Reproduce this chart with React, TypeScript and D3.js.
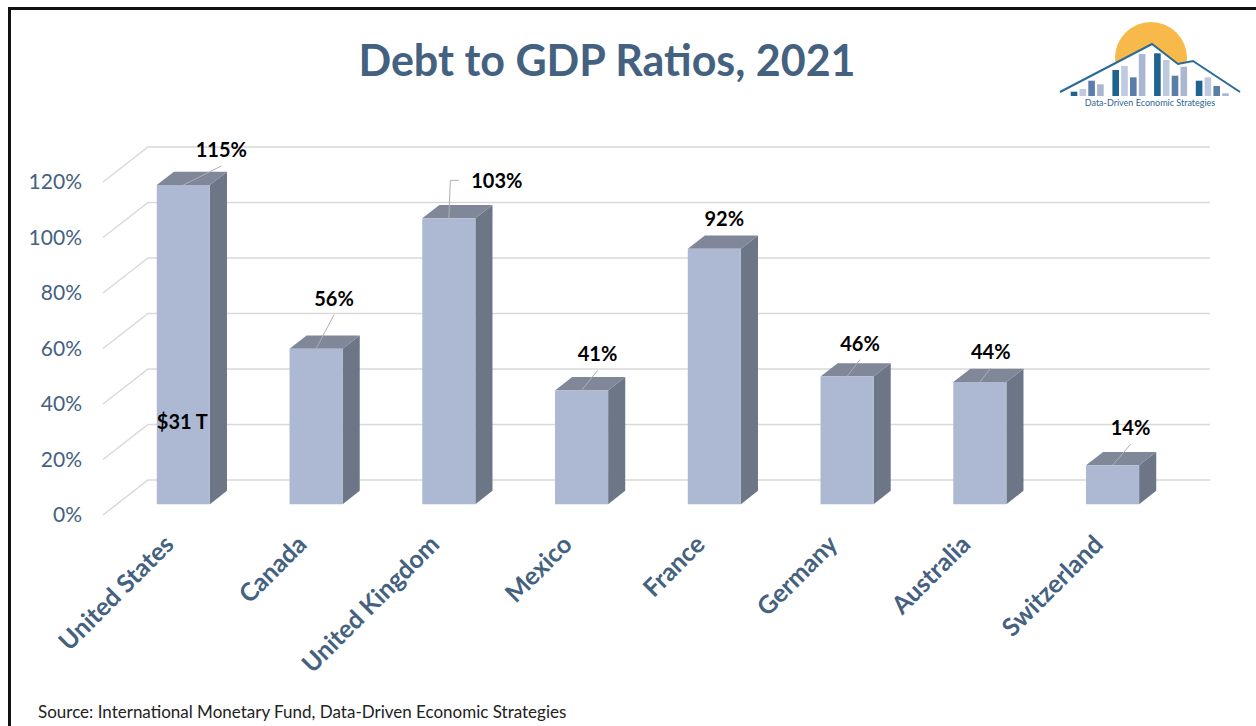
import React from "react";
import * as d3 from "d3";

// ---------- data ----------
const categories = [
  "United States",
  "Canada",
  "United Kingdom",
  "Mexico",
  "France",
  "Germany",
  "Australia",
  "Switzerland",
];
const debtRatios = [115, 56, 103, 41, 92, 46, 44, 14];
const yTicks = [0, 20, 40, 60, 80, 100, 120];
const title = "Debt to GDP Ratios, 2021";
const sourceText = "Source: International Monetary Fund, Data-Driven Economic Strategies";
const usAnnotation = "$31 T";

// logo decorative bar heights (px) and colour pattern
const logoBarHeights = [4.3, 7, 15.3, 11.7, 26, 30, 18.7, 42, 42.7, 36, 20.3, 29.3, 15.3, 18.7, 10, 2.7];
const logoColors = ["#1f6491", "#bfcae0", "#5a7ea8", "#a9b7d3"];

// ---------- layout (not data) ----------
const W = 1256;
const H = 726;
const backLeft = 148;
const backRight = 1210;
const DX = 45; // depth offset front->back (x)
const DY = 35; // depth offset front->back (y, upward)
const zFront = 0.31;
const zBack = 0.69;
// label offsets relative to the front-top centre of each bar
const labelOffsets: [number, number][] = [
  [38, -35],
  [18, -50],
  [48, -37],
  [16, -36],
  [10, -30],
  [13, -33],
  [11, -30],
  [18, -37],
];
const leaderShown = [true, true, true, true, false, true, true, true];

const C_FRONT = "#adb9d3";
const C_TOP = "#7f8799";
const C_SIDE = "#6c7686";
const AXIS_BLUE = "#44617f";
const FONT = "Lato, 'Open Sans', sans-serif";

export default function App() {
  const x = d3.scaleBand<string>().domain(categories).range([backLeft, backRight]).padding(0);
  const yBack = d3.scaleLinear().domain([0, 120]).range([480, 147]);

  const p = (xb: number, v: number, z: number): [number, number] => [
    xb - (1 - z) * DX,
    yBack(v) + (1 - z) * DY,
  ];
  const poly = (pts: [number, number][]) => "M" + pts.map((q) => q.join(",")).join("L") + "Z";

  const bw = x.bandwidth();
  const barW = bw * 0.4;

  return (
    <svg
      width={W}
      height={H}
      style={{ position: "absolute", left: 0, top: 0, background: "#fff" }}
      fontFamily={FONT}
    >
      <rect x={0} y={0} width={W} height={H} fill="#fff" />
      {/* frame */}
      <path d={`M9.5,${H} V8.5 H${W}`} fill="none" stroke="#111" strokeWidth={3} />

      {/* title */}
      <text x={607} y={76} textAnchor="middle" fontSize={43} fontWeight={700} fill={AXIS_BLUE}>
        {title}
      </text>

      {/* logo */}
      <g>
        <circle cx={1151} cy={58} r={36} fill="#f6b94a" />
        <path
          d="M1060,92 L1152,44 L1178,64 L1193,61 L1240,92 L1240,110 L1060,110 Z"
          fill="#fff"
        />
        <polyline
          points="1060,92 1152,44 1178,64 1193,61 1240,92"
          fill="none"
          stroke="#2a6a98"
          strokeWidth={2}
        />
        {logoBarHeights.map((h, i) => {
          const g = Math.floor(i / 4);
          const j = i % 4;
          const bx = 1070.7 + g * 41.7 + j * 8.8;
          return <rect key={i} x={bx} y={96 - h} width={6.6} height={h} fill={logoColors[j]} />;
        })}
        <text x={1150} y={106} textAnchor="middle" fontSize={9} fill="#2f6693">
          Data-Driven Economic Strategies
        </text>
      </g>

      {/* gridlines */}
      <g stroke="#d9d9d9" strokeWidth={1.5} fill="none">
        {yTicks.map((t) => {
          const a = p(backLeft, t, 0);
          const b = p(backLeft, t, 1);
          const c = p(backRight, t, 1);
          return <polyline key={t} points={`${a[0]},${a[1]} ${b[0]},${b[1]} ${c[0]},${c[1]}`} />;
        })}
      </g>

      {/* y tick labels */}
      {yTicks.map((t) => {
        const a = p(backLeft, t, 0);
        return (
          <text
            key={t}
            x={82}
            y={a[1]}
            dy="0.35em"
            textAnchor="end"
            fontSize={21}
            fill={AXIS_BLUE}
          >
            {t}%
          </text>
        );
      })}

      {/* bars */}
      {categories.map((cat, i) => {
        const v = debtRatios[i];
        const cx = (x(cat) as number) + bw / 2;
        const x0 = cx - barW / 2;
        const x1 = cx + barW / 2;
        const front = poly([p(x0, 0, zFront), p(x1, 0, zFront), p(x1, v, zFront), p(x0, v, zFront)]);
        const top = poly([p(x0, v, zFront), p(x1, v, zFront), p(x1, v, zBack), p(x0, v, zBack)]);
        const side = poly([p(x1, 0, zFront), p(x1, 0, zBack), p(x1, v, zBack), p(x1, v, zFront)]);
        return (
          <g key={cat}>
            <path d={side} fill={C_SIDE} />
            <path d={top} fill={C_TOP} />
            <path d={front} fill={C_FRONT} />
          </g>
        );
      })}

      {/* leader lines + data labels */}
      {categories.map((cat, i) => {
        const v = debtRatios[i];
        const cx = (x(cat) as number) + bw / 2;
        const [fx, fy] = p(cx, v, zFront);
        const [ox, oy] = labelOffsets[i];
        const lx = fx + ox;
        const ly = fy + oy;
        let leader: React.ReactNode = null;
        if (leaderShown[i]) {
          if (i === 2) {
            leader = (
              <polyline
                points={`${fx},${fy} ${fx + 1.5},${ly - 1} ${fx + 10},${ly - 1}`}
                fill="none"
                stroke="#b0b0b0"
                strokeWidth={1}
              />
            );
          } else {
            leader = (
              <line x1={fx} y1={fy} x2={lx} y2={ly + 16} stroke="#b0b0b0" strokeWidth={1} />
            );
          }
        }
        return (
          <g key={cat}>
            {leader}
            <text x={lx} y={ly} dy="0.35em" textAnchor="middle" fontSize={20} fontWeight={700} fill="#000">
              {v}%
            </text>
          </g>
        );
      })}

      {/* US annotation */}
      {(() => {
        const cx = (x(categories[0]) as number) + bw / 2;
        const [fx] = p(cx, 0, zFront);
        return (
          <text x={fx - 1} y={422} dy="0.35em" textAnchor="middle" fontSize={20} fontWeight={700} fill="#000">
            {usAnnotation}
          </text>
        );
      })()}

      {/* category labels */}
      {categories.map((cat) => {
        const cx = (x(cat) as number) + bw / 2;
        const ax = cx - 39;
        const ay = 546;
        return (
          <text
            key={cat}
            x={ax}
            y={ay}
            transform={`rotate(-45, ${ax}, ${ay})`}
            textAnchor="end"
            fontSize={25}
            fontWeight={700}
            fill={AXIS_BLUE}
          >
            {cat}
          </text>
        );
      })}

      {/* source */}
      <text x={38} y={718} fontSize={17} fill="#222">
        {sourceText}
      </text>
    </svg>
  );
}
